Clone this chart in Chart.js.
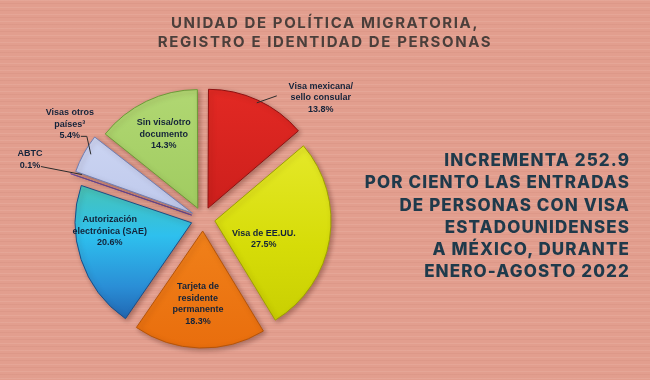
<!DOCTYPE html>
<html><head><meta charset="utf-8">
<script src="https://cdn.jsdelivr.net/npm/chart.js@4.4.1/dist/chart.umd.min.js"></script>
<style>
html,body{margin:0;padding:0;}
body{width:650px;height:380px;overflow:hidden;position:relative;background-color:#e29e8e;
background-image:repeating-linear-gradient(180deg,rgba(255,235,225,0.10) 0px,rgba(255,235,225,0.10) 1px,rgba(0,0,0,0) 1px,rgba(0,0,0,0) 3px,rgba(140,60,45,0.06) 3px,rgba(140,60,45,0.06) 4px,rgba(0,0,0,0) 4px,rgba(0,0,0,0) 7px);}
#c{position:absolute;left:0;top:0;}
.title{position:absolute;left:0;width:650px;text-align:center;font-family:Inter,"Open Sans",sans-serif;font-weight:700;font-size:15px;letter-spacing:1.6px;color:#4b3f3b;line-height:19px;}
.side{position:absolute;right:20px;text-align:right;font-family:Inter,"Open Sans",sans-serif;font-weight:800;font-size:17px;letter-spacing:1.1px;color:#1f3a4b;line-height:22.3px;}
</style></head>
<body>
<canvas id="c" width="650" height="380"></canvas>
<div class="title" style="top:13px">UNIDAD DE POLÍTICA MIGRATORIA,<br>REGISTRO E IDENTIDAD DE PERSONAS</div>
<div class="side" style="top:149px">INCREMENTA 252.9<br>POR CIENTO LAS ENTRADAS<br>DE PERSONAS CON VISA<br>ESTADOUNIDENSES<br>A MÉXICO, DURANTE<br>ENERO-AGOSTO 2022</div>
<script>
// ---- data ----
const categories = ['Visa mexicana/sello consular','Visa de EE.UU.','Tarjeta de residente permanente','Autorización electrónica (SAE)','ABTC','Visas otros países³','Sin visa/otro documento'];
const labelLines = [['Visa mexicana/','sello consular'],['Visa de EE.UU.'],['Tarjeta de','residente','permanente'],['Autorización','electrónica (SAE)'],['ABTC'],['Visas otros','países³'],['Sin visa/otro','documento']];
const shares = [13.8, 27.5, 18.3, 20.6, 0.1, 5.4, 14.3];

// ---- styles ----
const sliceGradients = [
  [[0,'#e42a24'],[1,'#b51414']],
  [[0,'#ecef3a'],[0.6,'#d6dc08'],[1,'#c4ca00']],
  [[0,'#f99628'],[1,'#e86c0c']],
  [[0.3,'#4ec4a6'],[0.55,'#2ec0ee'],[0.75,'#2a8ed6'],[0.95,'#1a4f9c']],
  [[0,'#8a6cc0'],[1,'#8a6cc0']],
  [[0,'#d4dcf6'],[1,'#a9b6e2']],
  [[0,'#b2d874'],[1,'#8ebf4c']]
];
const sliceBorders = ['#8e1010','#9da100','#b55408','#1c4e86','#6a4a9a','#6f7eb2','#6c9a38'];
const PIE_R = 116, PIE_OFF = 12;
// label placement: inside -> radial fraction + angle tweak (deg); outside -> leader points + text centre relative to slice edge point
const labelPlace = [
  {out:true, pts:[[0,0],[20,-7]], txt:[64,-5]},
  {f:0.45, da:11},
  {f:0.63, da:2},
  {f:0.71, da:12.5},
  {out:true, pts:[[0,-3],[-41,-11]], txt:[-52,-18]},
  {out:true, pts:[[0,-3],[-4,-21],[-10,-21]], txt:[-21,-33]},
  {f:0.70, da:1}
];

function sliceFill(context){
  const i = context.dataIndex;
  const chart = context.chart;
  const area = chart.chartArea;
  if(!area || i === undefined) return sliceGradients[i||0][0][1];
  const cy = (area.top+area.bottom)/2;
  const g = chart.ctx.createLinearGradient(0, cy-PIE_R-PIE_OFF, 0, cy+PIE_R+PIE_OFF);
  sliceGradients[i].forEach(s=>g.addColorStop(s[0], s[1]));
  return g;
}

const shadowPlugin = {
  id:'shadow',
  beforeDatasetsDraw(chart){
    const ctx = chart.ctx; ctx.save();
    ctx.shadowColor='rgba(60,20,10,0.35)'; ctx.shadowBlur=5; ctx.shadowOffsetX=2; ctx.shadowOffsetY=2;
  },
  afterDatasetsDraw(chart){ chart.ctx.restore(); }
};

const labelPlugin = {
  id:'pieLabels',
  afterDatasetsDraw(chart){
    const ctx = chart.ctx;
    const meta = chart.getDatasetMeta(0);
    ctx.save();
    ctx.font = 'bold 9px "Liberation Sans", Arial, sans-serif';
    ctx.textBaseline = 'middle';
    const LH = 11.5;
    meta.data.forEach((arc, i)=>{
      const p = arc.getProps(['x','y','startAngle','endAngle','outerRadius'], true);
      const mid = (p.startAngle + p.endAngle)/2;
      const lines = labelLines[i].concat([shares[i].toFixed(1)+'%']);
      const pl = labelPlace[i];
      let tx, ty;
      if(pl.out){
        const sx = p.x + Math.cos(mid)*(p.outerRadius+PIE_OFF);
        const sy = p.y + Math.sin(mid)*(p.outerRadius+PIE_OFF);
        ctx.strokeStyle = '#2b2b2b'; ctx.lineWidth = 1;
        ctx.beginPath();
        pl.pts.forEach((q,k)=>{ if(k===0) ctx.moveTo(sx+q[0], sy+q[1]); else ctx.lineTo(sx+q[0], sy+q[1]); });
        ctx.stroke();
        tx = sx + pl.txt[0]; ty = sy + pl.txt[1];
      } else {
        const cx = p.x + Math.cos(mid)*PIE_OFF, cy = p.y + Math.sin(mid)*PIE_OFF;
        const a = mid + pl.da*Math.PI/180;
        tx = cx + Math.cos(a)*p.outerRadius*pl.f;
        ty = cy + Math.sin(a)*p.outerRadius*pl.f;
      }
      ctx.fillStyle = '#14233a';
      ctx.textAlign = 'center';
      const y0 = ty - (lines.length-1)*LH/2;
      lines.forEach((t,k)=>ctx.fillText(t, tx, y0 + k*LH));
    });
    ctx.restore();
  }
};

new Chart(document.getElementById('c'), {
  type:'pie',
  data:{
    labels: categories,
    datasets:[{
      data: shares,
      backgroundColor: sliceFill,
      borderColor: sliceBorders,
      borderWidth: 1,
      offset: PIE_OFF*4,   // Chart.js v4 translates arcs by offset/4
      radius: PIE_R
    }]
  },
  options:{
    responsive:false,
    animation:false,
    layout:{padding:{left:0, right:244, top:58, bottom:0}},
    plugins:{legend:{display:false}, tooltip:{enabled:false}, title:{display:false}}
  },
  plugins:[shadowPlugin, labelPlugin]
});
</script>
</body></html>
